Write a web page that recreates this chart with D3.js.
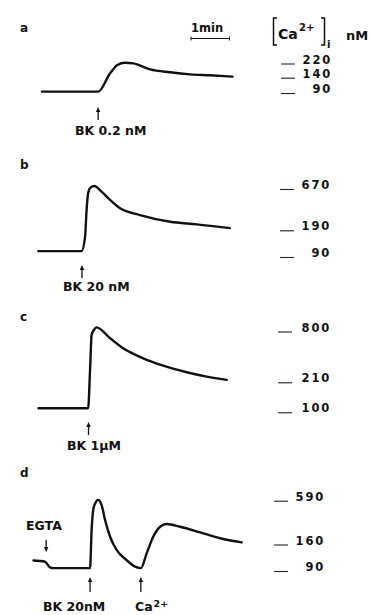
<!DOCTYPE html>
<html>
<head>
<meta charset="utf-8">
<script src="https://cdn.jsdelivr.net/npm/d3@7"></script>
<style>
  body { margin: 0; background: #fff; }
  text { font-family: "DejaVu Sans", "Liberation Sans", sans-serif; font-weight: bold; fill: #111; }
</style>
</head>
<body>
<div id="chart"></div>
<script>
const width = 370;
const height = 615;

// time in min, [Ca2+]i in nM
const timeA = [0.31, 1.77, 2.08, 2.27, 2.47, 2.68, 3.12, 3.64, 4.16, 4.68, 5.26];
const caA   = [82, 82, 138, 193, 208, 204, 163, 143, 135, 132, 128];

const timeB = [0.22, 1.34, 1.43, 1.47, 1.51, 1.58, 1.67, 1.86, 2.08, 2.34, 2.86, 3.64, 4.33, 5.19];
const caB   = [97, 97, 151, 379, 577, 643, 658, 592, 496, 399, 321, 243, 213, 183];

const timeC = [0.22, 1.51, 1.56, 1.60, 1.66, 1.73, 2.08, 2.42, 2.94, 3.46, 4.07, 4.59, 5.11];
const caC   = [100, 100, 306, 713, 771, 802, 675, 558, 442, 356, 280, 229, 204];

const timeD = [0.09, 0.39, 0.52, 0.61, 1.56, 1.60, 1.66, 1.77, 1.86, 1.95, 2.08, 2.25, 2.51,
               2.73, 2.88, 3.03, 3.20, 3.38, 3.55, 3.90, 4.42, 4.94, 5.50];
const caD   = [107, 104, 89, 87, 87, 263, 492, 558, 508, 361, 197, 135, 108,
               91, 87, 126, 197, 295, 322, 295, 240, 182, 155];

// calibration ticks on the right of each trace
const ticksA = [90, 140, 220];
const ticksB = [90, 190, 670];
const ticksC = [100, 210, 800];
const ticksD = [90, 160, 590];

// additions (time in min)
const stimA = [{t: 1.77, label: "BK 0.2 nM", dir: "up"}];
const stimB = [{t: 1.35, label: "BK 20 nM", dir: "up"}];
const stimC = [{t: 1.52, label: "BK 1\u03bcM", dir: "up"}];
const stimD = [
  {t: 0.42, label: "EGTA", dir: "down"},
  {t: 1.56, label: "BK 20nM", dir: "up"},
  {t: 2.88, label: "Ca", sup: "2+", dir: "up"}
];

const panels = [
  {id: "a", time: timeA, ca: caA, ticks: ticksA, stim: stimA,
   tickY: [89, 72.7, 61], nudge: [0, 1, -1.5], tickX: 281, labelEnd: 332, letterY: 28,
   arrowTop: 107, arrowBottom: 120, labelY: 131, labelX: [75]},
  {id: "b", time: timeB, ca: caB, ticks: ticksB, stim: stimB,
   tickY: [253, 226.3, 185], nudge: [0, 0, 0], tickX: 280, labelEnd: 331, letterY: 165,
   arrowTop: 265, arrowBottom: 278, labelY: 287, labelX: [63]},
  {id: "c", time: timeC, ca: caC, ticks: ticksC, stim: stimC,
   tickY: [408.3, 378.3, 327.5], nudge: [0, 0, 0], tickX: 278, labelEnd: 331, letterY: 317,
   arrowTop: 422, arrowBottom: 435, labelY: 446, labelX: [67]},
  {id: "d", time: timeD, ca: caD, ticks: ticksD, stim: stimD,
   tickY: [567, 540.5, 496.7], nudge: [0, 0, 0], tickX: 274, labelEnd: 325, letterY: 473,
   arrowTop: 577, arrowBottom: 592, labelY: 607, labelX: [26, 43, 135],
   downTop: 540, downBottom: 552, downLabelY: 526}
];

const svg = d3.select("#chart")
  .append("svg")
  .attr("width", width)
  .attr("height", height);

const x = d3.scaleLinear().domain([0, 6]).range([30, 261]);

function arrowUp(g, ax, top, bottom) {
  g.append("line")
    .attr("x1", ax).attr("x2", ax)
    .attr("y1", top + 3).attr("y2", bottom)
    .attr("stroke", "#111").attr("stroke-width", 1.3);
  g.append("path")
    .attr("d", `M${ax},${top} L${ax - 2.2},${top + 5} L${ax + 2.2},${top + 5} Z`)
    .attr("fill", "#111");
}

function arrowDown(g, ax, top, bottom) {
  g.append("line")
    .attr("x1", ax).attr("x2", ax)
    .attr("y1", top).attr("y2", bottom - 3)
    .attr("stroke", "#111").attr("stroke-width", 1.3);
  g.append("path")
    .attr("d", `M${ax},${bottom} L${ax - 2.2},${bottom - 5} L${ax + 2.2},${bottom - 5} Z`)
    .attr("fill", "#111");
}

panels.forEach(p => {
  const y = d3.scaleLinear().domain(p.ticks).range(p.tickY);
  const g = svg.append("g");

  g.append("text")
    .attr("x", 20).attr("y", p.letterY)
    .attr("dy", "0.35em")
    .attr("font-size", 12)
    .text(p.id);

  const pts = p.time.map((t, i) => ({t: t, v: p.ca[i]}));
  const line = d3.line()
    .x(d => x(d.t))
    .y(d => y(d.v))
    .curve(d3.curveMonotoneX);

  g.append("path")
    .datum(pts)
    .attr("d", line)
    .attr("fill", "none")
    .attr("stroke", "#111")
    .attr("stroke-width", 2.4)
    .attr("stroke-linejoin", "round")
    .attr("stroke-linecap", "round");

  // calibration marks
  const tk = g.selectAll(".tick")
    .data(p.ticks)
    .join("g")
    .attr("class", "tick");
  tk.append("line")
    .attr("x1", p.tickX).attr("x2", p.tickX + 14)
    .attr("y1", (d, i) => y(d) + p.nudge[i] + 4.5)
    .attr("y2", (d, i) => y(d) + p.nudge[i] + 4.5)
    .attr("stroke", "#222").attr("stroke-width", 1.1);
  tk.append("text")
    .attr("x", p.labelEnd).attr("y", (d, i) => y(d) + p.nudge[i])
    .attr("dy", "0.36em")
    .attr("text-anchor", "end")
    .attr("font-size", 11.5)
    .attr("letter-spacing", 1.8)
    .text(d => d);

  p.stim.forEach((s, i) => {
    const ax = x(s.t);
    if (s.dir === "up") {
      arrowUp(g, ax, p.arrowTop, p.arrowBottom);
      const t = g.append("text")
        .attr("x", p.labelX[i]).attr("y", p.labelY)
        .attr("dy", "0.35em")
        .attr("font-size", 12.5)
        .text(s.label);
      if (s.sup) {
        t.append("tspan")
          .attr("dy", "-0.45em")
          .attr("font-size", 9.5)
          .attr("dx", 1)
          .text(s.sup);
      }
    } else {
      arrowDown(g, ax, p.downTop, p.downBottom);
      g.append("text")
        .attr("x", p.labelX[i]).attr("y", p.downLabelY)
        .attr("dy", "0.35em")
        .attr("font-size", 12.5)
        .text(s.label);
    }
  });
});

// 1 min scale bar
const bar = svg.append("g").attr("transform", "translate(161,0)");
bar.append("text")
  .attr("x", x(0)).attr("y", 28)
  .attr("dy", "0.35em")
  .attr("font-size", 11.5)
  .text("1min");
bar.append("line")
  .attr("x1", x(0)).attr("x2", x(1))
  .attr("y1", 38.5).attr("y2", 38.5)
  .attr("stroke", "#111").attr("stroke-width", 1);
[0, 1].forEach(m => {
  bar.append("line")
    .attr("x1", x(m)).attr("x2", x(m))
    .attr("y1", 36.5).attr("y2", 40.5)
    .attr("stroke", "#111").attr("stroke-width", 1);
});

// [Ca2+]i nM header
const hdr = svg.append("g");
hdr.append("path")
  .attr("d", "M277,18 H273.5 V45 H277")
  .attr("fill", "none").attr("stroke", "#111").attr("stroke-width", 1.5);
hdr.append("path")
  .attr("d", "M321,18 H324.5 V45 H321")
  .attr("fill", "none").attr("stroke", "#111").attr("stroke-width", 1.5);
hdr.append("text")
  .attr("x", 278).attr("y", 34).attr("dy", "0.35em")
  .attr("font-size", 14).text("Ca");
hdr.append("text")
  .attr("x", 299).attr("y", 27).attr("dy", "0.35em")
  .attr("font-size", 10).text("2+");
hdr.append("text")
  .attr("x", 327).attr("y", 44).attr("dy", "0.35em")
  .attr("font-size", 10).text("i");
hdr.append("text")
  .attr("x", 346).attr("y", 35).attr("dy", "0.35em")
  .attr("font-size", 13).text("nM");
</script>
</body>
</html>
